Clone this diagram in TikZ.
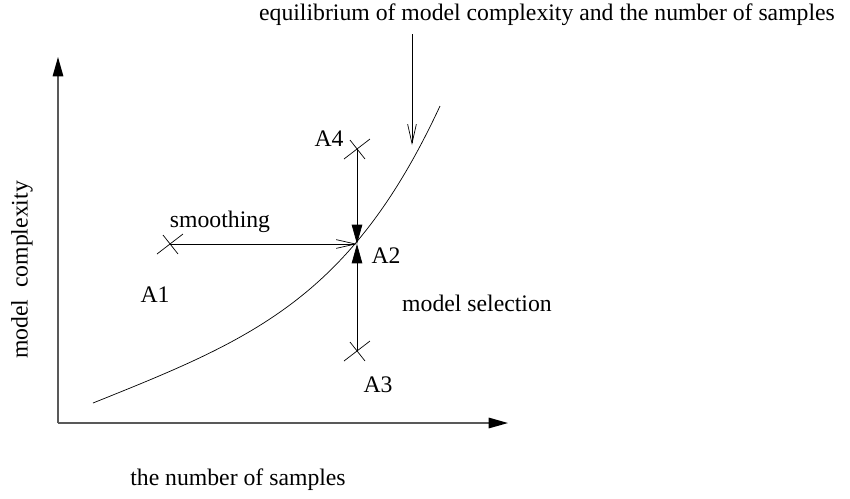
\documentclass[tikz,border=0pt]{standalone}
\usepackage{fontspec}
\setmainfont{Liberation Serif}
\usetikzlibrary{arrows.meta, positioning, calc}

\begin{document}
\begin{tikzpicture}[
    x=0.02cm, y=-0.02cm,
    lbl/.style={font=\fontsize{13.5}{16}\selectfont, inner sep=0pt},
    axis/.style={draw=black!65, line width=0.8pt, -{Triangle[length=11pt, width=6pt, color=black]}},
    step-in/.style={thin, -{Triangle[length=11pt, width=6pt]}},
    barb/.style={thin, -{Straight Barb[length=11pt, width=5pt]}},
    cross/.style={thin}
]
    % frame
    \useasboundingbox (0,0) rectangle (850,498);

    % Axes
    \coordinate (o) at (58,423);
    \coordinate (ytip) at (58,57);
    \coordinate (xtip) at (508,423);
    \draw[axis] (o) -- (ytip);
    \draw[axis] (o) -- (xtip);
    \node[lbl, rotate=90] (ylab) at (22,270) {model\ \ complexity};
    \node[lbl] (xlab) at (238,480) {the number of samples};

    % Points
    \coordinate (a1) at (170,244);
    \coordinate (a2) at (357,244);
    \coordinate (a3) at (357,351);
    \coordinate (a4) at (357,149);
    \foreach \p in {a1,a3,a4}{
        \draw[cross] ($(\p)+(-13,10)$) -- ($(\p)+(13,-10)$);
        \draw[cross] ($(\p)+(-7,-9)$) -- ($(\p)+(8,10)$);
    }

    % Equilibrium curve
    \coordinate (cstart) at (93,403);
    \coordinate (cend) at (440,106);
    \draw[thin] (cstart) .. controls (250,340) and (350,300) .. (cend);

    % Labels
    \node[lbl] (l1) at (155,295) {A1};
    \node[lbl] (l2) at (386,256) {A2};
    \node[lbl] (l3) at (378,385) {A3};
    \node[lbl] (l4) at (329,139) {A4};
    \node[lbl] (smooth) at (220,222) {smoothing};
    \node[lbl] (msel) at (477,303) {model selection};
    \node[lbl] (title) at (547,15) {equilibrium of model complexity and the number of samples};
    \coordinate (hit) at (412,145);

    % Arrows
    \draw[barb] (a1) -- (a2);
    \draw[step-in] (a4) -- (a2);
    \draw[step-in] (a3) -- (a2);
    \draw[barb] (title.south -| hit) ++(0,8) -- (hit);
\end{tikzpicture}
\end{document}
